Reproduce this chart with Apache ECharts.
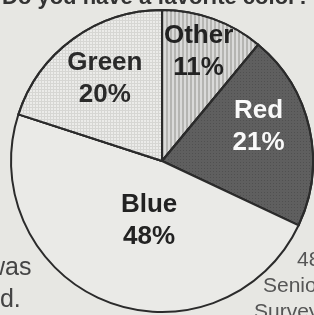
<!DOCTYPE html>
<html>
<head>
<meta charset="utf-8">
<script src="https://cdn.jsdelivr.net/npm/echarts@6/dist/echarts.min.js"></script>
<style>
  html, body { margin: 0; padding: 0; background: #e7e7e3; }
  #chart { width: 314px; height: 315px; }
</style>
</head>
<body>
<div id="chart"></div>
<script>
const colors = ['Other', 'Red', 'Blue', 'Green'];
const percents = [11, 21, 48, 20];

// fill + texture for each slice
const looks = {
  Other: { color: '#b5b5b2', decal: { symbol: 'rect', symbolSize: 1, dashArrayX: [2, 2], dashArrayY: [5, 0], color: 'rgba(255,255,255,0.5)' }, text: '#222' },
  Red:   { color: '#5f5f5f', decal: { symbol: 'rect', symbolSize: 1, dashArrayX: [1, 2], dashArrayY: [1, 2], color: 'rgba(0,0,0,0.15)' }, text: '#fafafa' },
  Blue:  { color: '#eaeae7', decal: null, text: '#222' },
  Green: { color: '#d6d6d3', decal: { symbol: 'rect', symbolSize: 1, dashArrayX: [2, 1], dashArrayY: [2, 1], color: 'rgba(255,255,255,0.5)' }, text: '#2a2a2a' }
};
const labelShift = { Other: [10, -35], Red: [20, -17], Blue: [16, -13], Green: [-11, -19] };

const myChart = echarts.init(document.getElementById('chart'));

const option = {
  backgroundColor: '#e7e7e3',
  animation: false,
  graphic: [
    { type: 'text', left: 2, top: -13, style: { text: 'Do you have a favorite color?', font: 'bold 22px "Liberation Sans"', fill: '#333' } },
    { type: 'text', left: -13, top: 256, style: { text: 'was', font: '25px "Liberation Sans"', fill: '#444' } },
    { type: 'text', left: -14, top: 288, style: { text: 'ed.', font: '25px "Liberation Sans"', fill: '#444' } },
    { type: 'text', left: 297, top: 250, style: { text: '48', font: '21px "Liberation Sans"', fill: '#555' } },
    { type: 'text', left: 263, top: 276, style: { text: 'Senior', font: '21px "Liberation Sans"', fill: '#555' } },
    { type: 'text', left: 254, top: 302, style: { text: 'Survey', font: '21px "Liberation Sans"', fill: '#555' } }
  ],
  series: [{
    type: 'pie',
    center: [162, 161],
    radius: 151,
    startAngle: 90,
    clockwise: true,
    silent: true,
    itemStyle: { borderColor: '#2b2b2b', borderWidth: 2 },
    label: {
      show: true,
      position: 'inside',
      formatter: p => p.name + '\n' + p.value + '%',
      fontFamily: '"Liberation Sans"',
      fontWeight: 'bold',
      fontSize: 26,
      lineHeight: 32
    },
    labelLine: { show: false },
    data: colors.map((name, i) => ({
      name: name,
      value: percents[i],
      itemStyle: { color: looks[name].color, decal: looks[name].decal || undefined },
      label: { color: looks[name].text, offset: labelShift[name] }
    }))
  }]
};

myChart.setOption(option);
</script>
</body>
</html>
